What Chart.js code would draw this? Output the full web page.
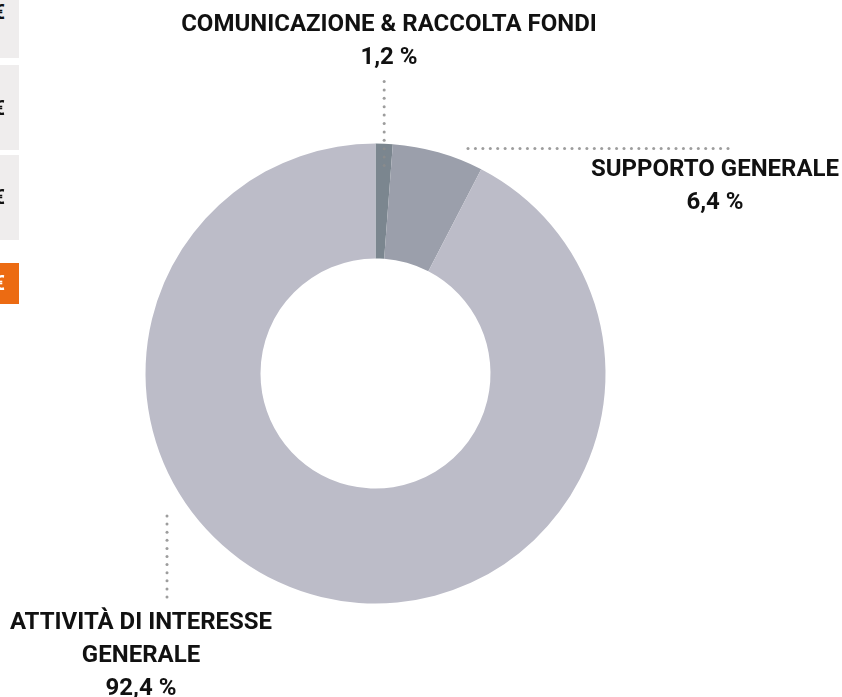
<!DOCTYPE html>
<html lang="it">
<head>
<meta charset="utf-8">
<title>Ripartizione oneri</title>
<script src="https://cdn.jsdelivr.net/npm/chart.js@4.4.1/dist/chart.umd.min.js"></script>
<style>
  html, body { margin: 0; padding: 0; background: #fff; overflow: hidden; }
  #wrap { position: relative; width: 842px; height: 697px; }
  .side {
    position: absolute; left: -80px; width: 99px;
    background: #efeded; color: #111;
    font: 700 20px Roboto, sans-serif;
    text-align: right; box-sizing: border-box; padding-right: 14px;
  }
  .side.hot { background: #ec6b12; color: #fff; }
</style>
</head>
<body>
<div id="wrap">
  <div class="side" style="top:-20px;height:78px;line-height:64px;">€</div>
  <div class="side" style="top:65px;height:85px;line-height:86px;">€</div>
  <div class="side" style="top:155px;height:85px;line-height:84px;">€</div>
  <div class="side hot" style="top:263px;height:41px;line-height:41px;">€</div>
  <canvas id="chart" width="842" height="697"></canvas>
</div>
<script>
const categories = ['COMUNICAZIONE & RACCOLTA FONDI', 'SUPPORTO GENERALE', 'ATTIVITÀ DI INTERESSE GENERALE'];
const shares = [1.2, 6.4, 92.4];
const shareLabels = ['1,2 %', '6,4 %', '92,4 %'];
const sliceColors = ['#7b868f', '#9b9fab', '#bcbcc8'];

// dotted leader lines + labels, placed around the ring
const calloutPlugin = {
  id: 'callouts',
  afterDatasetsDraw(chart) {
    const arcs = chart.getDatasetMeta(0).data;
    if (!arcs.length) return;
    const { x: cx, y: cy, outerRadius: r } = arcs[0];
    const ctx = chart.ctx;

    const dots = (x1, y1, x2, y2, step) => {
      const len = Math.hypot(x2 - x1, y2 - y1);
      const n = Math.floor(len / step);
      ctx.fillStyle = 'rgba(140,140,140,0.85)';
      for (let i = 0; i <= n; i++) {
        const t = n ? i / n : 0;
        ctx.beginPath();
        ctx.arc(x1 + (x2 - x1) * t, y1 + (y2 - y1) * t, 1.5, 0, Math.PI * 2);
        ctx.fill();
      }
    };

    const text = (lines, x, y) => {
      ctx.fillStyle = '#111';
      ctx.font = '700 24px Roboto, sans-serif';
      ctx.textAlign = 'center';
      ctx.textBaseline = 'middle';
      lines.forEach((s, i) => ctx.fillText(s, x, y + i * 33));
    };

    ctx.save();
    // first slice: vertical leader through its mid angle
    const a0 = (arcs[0].startAngle + arcs[0].endAngle) / 2;
    const lx = cx + r * Math.cos(a0);
    dots(lx, cy - r - 62, lx, cy - r + 22, 8);
    text([categories[0], shareLabels[0]], cx + 13.5, 25);

    // second slice: horizontal leader to the right
    dots(cx + 92.5, cy - 225, cx + 352.5, cy - 225, 7.4);
    text([categories[1], shareLabels[1]], cx + 339.5, cy - 203.5);

    // third slice: vertical leader on the lower left
    dots(cx - 208.5, cy + 142.5, cx - 208.5, cy + 223.5, 8);
    text(['ATTIVITÀ DI INTERESSE', 'GENERALE', shareLabels[2]], cx - 234.5, cy + 249);
    ctx.restore();
  }
};

new Chart(document.getElementById('chart'), {
  type: 'doughnut',
  data: {
    labels: categories,
    datasets: [{
      data: shares,
      backgroundColor: sliceColors,
      borderWidth: 0,
      hoverOffset: 0
    }]
  },
  options: {
    responsive: false,
    animation: false,
    cutout: '50%',
    layout: { padding: { left: 145.5, right: 236.5, top: 143.5, bottom: 93.5 } },
    plugins: {
      legend: { display: false },
      tooltip: { enabled: false }
    }
  },
  plugins: [calloutPlugin]
});
</script>
</body>
</html>
